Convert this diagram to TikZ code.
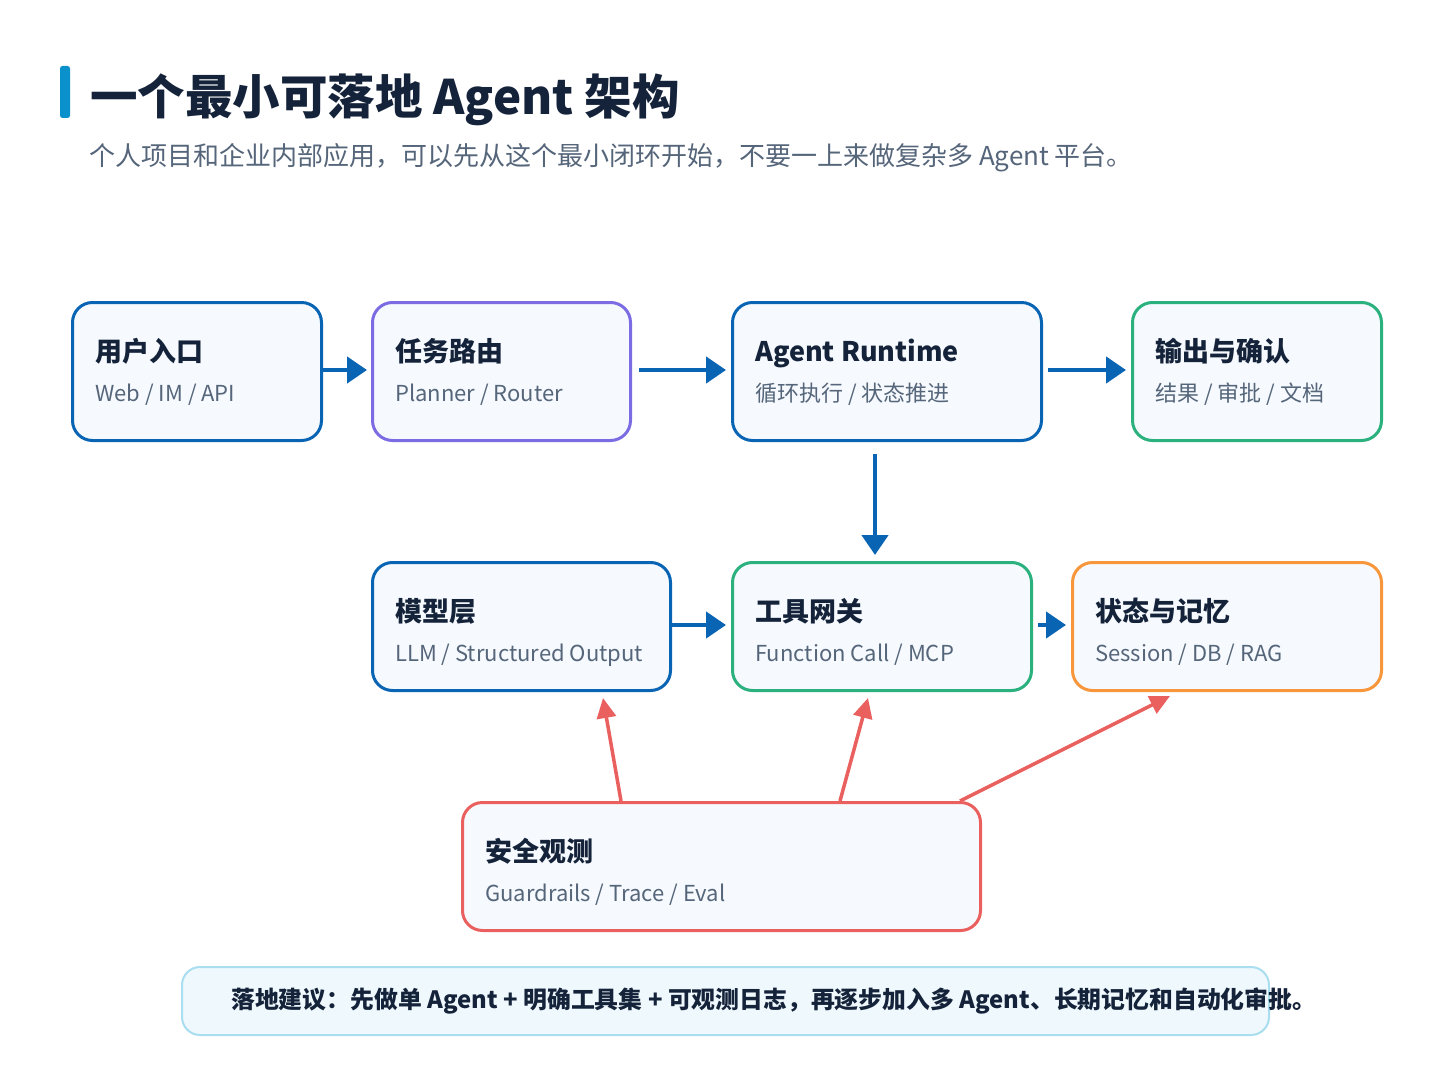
\documentclass[tikz,border=0pt]{standalone}
\usepackage{fontspec}
\setmainfont{Noto Sans CJK SC}
\usetikzlibrary{arrows.meta}
\definecolor{ink}{HTML}{15233A}
\definecolor{sub}{HTML}{55657A}
\definecolor{cblue}{HTML}{0A64B4}
\definecolor{cpurple}{HTML}{7B6CE3}
\definecolor{cgreen}{HTML}{2AB17E}
\definecolor{corange}{HTML}{F7963A}
\definecolor{cred}{HTML}{E9605F}
\definecolor{boxfill}{HTML}{F6FAFE}
\definecolor{noteline}{HTML}{A9DEF0}
\definecolor{notefill}{HTML}{EFF8FD}
\definecolor{accent}{HTML}{0A90CA}
\tikzset{
  box/.style={draw=#1, line width=3pt, rounded corners=20pt, fill=boxfill, anchor=north west, inner sep=0pt},
  ttl/.style={anchor=base west, inner sep=0pt, text=ink, font=\fontsize{27}{30}\selectfont\bfseries},
  subt/.style={anchor=base west, inner sep=0pt, text=sub, font=\fontsize{22}{26}\selectfont},
  flow/.style={draw=cblue, line width=4.5pt, -{Triangle[length=20pt,width=26pt]}},
  obs/.style={draw=cred, line width=3.5pt, -{Triangle[length=20pt,width=19pt]}},
}
\begin{document}
\begin{tikzpicture}[x=1pt,y=-1pt]
\useasboundingbox[fill=white] (0,0) rectangle (1448,1086);
% header
\fill[accent, rounded corners=2.5pt] (60,66) rectangle (70,118);
\node[anchor=west, inner sep=0pt, text=ink, font=\fontsize{47.5}{52}\selectfont\bfseries] (title) at (90,100) {一个最小可落地 Agent 架构};
\node[anchor=west, inner sep=0pt, text=sub, font=\fontsize{26}{30}\selectfont] (subtitle) at (89,158) {个人项目和企业内部应用，可以先从这个最小闭环开始，不要一上来做复杂多 Agent 平台。};
% boxes
\node[box=cblue, minimum width=249pt, minimum height=138pt] (b1) at (71,301) {};
\node[box=cpurple, minimum width=258pt, minimum height=138pt] (b2) at (371,301) {};
\node[box=cblue, minimum width=309pt, minimum height=138pt] (b3) at (731,301) {};
\node[box=cgreen, minimum width=249pt, minimum height=138pt] (b4) at (1131,301) {};
\node[box=cblue, minimum width=298pt, minimum height=128pt] (b5) at (371,561) {};
\node[box=cgreen, minimum width=299pt, minimum height=128pt] (b6) at (731,561) {};
\node[box=corange, minimum width=309pt, minimum height=128pt] (b7) at (1071,561) {};
\node[box=cred, minimum width=518pt, minimum height=128pt] (b8) at (461,801) {};
% texts
\foreach \b/\t/\s in {b1/用户入口/{Web / IM / API}, b2/任务路由/{Planner / Router}, b3/Agent Runtime/{循环执行 / 状态推进}, b4/输出与确认/{结果 / 审批 / 文档}, b5/模型层/{LLM / Structured Output}, b6/工具网关/{Function Call / MCP}, b7/状态与记忆/{Session / DB / RAG}, b8/安全观测/{Guardrails / Trace / Eval}}{
  \node[ttl] (\b t) at ([xshift=24pt,yshift=-60pt]\b.north west) {\t};
  \node[subt] (\b s) at ([xshift=24pt,yshift=-100pt]\b.north west) {\s};
}
% blue flow arrows
\draw[flow, shorten >=4pt] (b1.east |- 0,370) -- (b2.west |- 0,370);
\draw[flow, shorten <=7pt, shorten >=5pt] (b2.east |- 0,370) -- (b3.west |- 0,370);
\draw[flow, shorten <=5pt, shorten >=5pt] (b3.east |- 0,370) -- (b4.west |- 0,370);
\draw[flow, shorten <=12pt, shorten >=6pt] (875,0 |- b3.south) -- (875,0 |- b6.north);
\draw[flow, shorten >=5pt] (b5.east |- 0,625) -- (b6.west |- 0,625);
\draw[flow, shorten <=5pt, shorten >=5pt] (b6.east |- 0,625) -- (b7.west |- 0,625);
% red observation arrows
\draw[obs] ([xshift=160pt]b8.north west) -- ([xshift=232pt,yshift=-6pt]b5.south west);
\draw[obs] ([xshift=379pt]b8.north west) -- ([xshift=137pt,yshift=-6pt]b6.south west);
\draw[obs] ([xshift=499pt]b8.north west) -- ([xshift=99pt,yshift=-4pt]b7.south west);
% note
\node[draw=noteline, line width=2pt, fill=notefill, rounded corners=18pt, anchor=north west, minimum width=1087pt, minimum height=68pt, inner sep=0pt] (note) at (181,966) {};
\node[anchor=west, inner sep=0pt, text=ink, font=\fontsize{23.85}{28}\selectfont\bfseries] (notet) at (231,1001) {落地建议：先做单 Agent + 明确工具集 + 可观测日志，再逐步加入多 Agent、长期记忆和自动化审批。};
\end{tikzpicture}
\end{document}
